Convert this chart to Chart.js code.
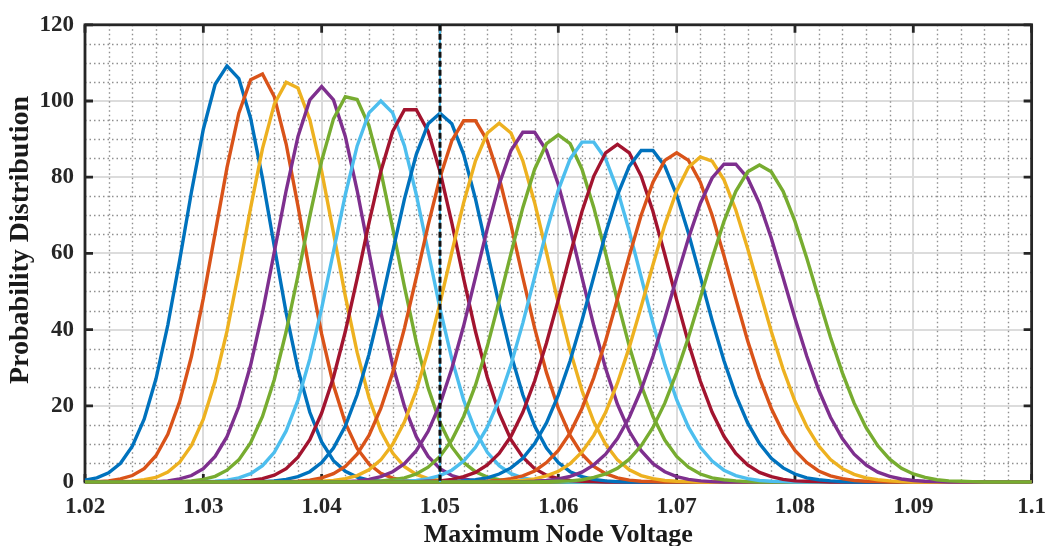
<!DOCTYPE html>
<html>
<head>
<meta charset="utf-8">
<script src="https://cdn.jsdelivr.net/npm/chart.js@4.4.1/dist/chart.umd.min.js"></script>
<style>
  html, body { margin: 0; padding: 0; background: #ffffff; }
  #wrap { width: 1057px; height: 546px; position: relative; }
</style>
</head>
<body>
<div id="wrap"><canvas id="chart"></canvas></div>
<script>
// Sample points of the voltage axis (V)
const voltageGrid = [
  1.020, 1.021, 1.022, 1.023, 1.024, 1.025, 1.026, 1.027, 1.028, 1.029,
  1.030, 1.031, 1.032, 1.033, 1.034, 1.035, 1.036, 1.037, 1.038, 1.039,
  1.040, 1.041, 1.042, 1.043, 1.044, 1.045, 1.046, 1.047, 1.048, 1.049,
  1.050, 1.051, 1.052, 1.053, 1.054, 1.055, 1.056, 1.057, 1.058, 1.059,
  1.060, 1.061, 1.062, 1.063, 1.064, 1.065, 1.066, 1.067, 1.068, 1.069,
  1.070, 1.071, 1.072, 1.073, 1.074, 1.075, 1.076, 1.077, 1.078, 1.079,
  1.080, 1.081, 1.082, 1.083, 1.084, 1.085, 1.086, 1.087, 1.088, 1.089,
  1.090, 1.091, 1.092, 1.093, 1.094, 1.095, 1.096, 1.097, 1.098, 1.099,
  1.100
];

// First voltage of the non-zero part of each distribution
const curveStart = [
  1.020, 1.021, 1.023, 1.026, 1.028, 1.030, 1.032, 1.035, 1.037, 1.039,
  1.042, 1.044, 1.046, 1.048, 1.051, 1.053, 1.055, 1.057, 1.059
];

// Probability density of the maximum node voltage, one list per case
const dist01 = [0.5, 1.1, 2.4, 4.9, 9.4, 16.5, 27.1, 41.2, 58.2, 76.2, 92.6, 104.4, 109.2, 105.9, 95.4, 79.7, 61.8, 44.4, 29.6, 18.3, 10.5, 5.6, 2.8, 1.3, 0.5, 0.2, 0.1];
const dist02 = [0.1, 0.3, 0.8, 1.7, 3.5, 6.9, 12.5, 21.1, 33.0, 48.2, 65.4, 82.5, 96.8, 105.6, 107.1, 101.1, 88.7, 72.4, 54.9, 38.8, 25.4, 15.5, 8.8, 4.7, 2.3, 1.0, 0.4, 0.2, 0.1];
const dist03 = [0.1, 0.2, 0.6, 1.2, 2.6, 5.2, 9.6, 16.5, 26.5, 39.6, 55.3, 72.0, 87.5, 99.2, 104.9, 103.4, 95.1, 81.6, 65.4, 48.8, 34.0, 22.1, 13.4, 7.6, 4.0, 2.0, 0.9, 0.4, 0.2, 0.1];
const dist04 = [0.1, 0.3, 0.8, 1.7, 3.5, 6.7, 11.9, 19.8, 30.7, 44.5, 60.4, 76.5, 90.7, 100.3, 103.8, 100.3, 90.7, 76.5, 60.4, 44.5, 30.7, 19.8, 11.9, 6.7, 3.5, 1.7, 0.8, 0.3, 0.1];
const dist05 = [0.1, 0.3, 0.7, 1.5, 3.1, 5.8, 10.3, 17.2, 26.9, 39.5, 54.2, 69.8, 84.3, 95.3, 101.1, 100.4, 93.5, 81.6, 66.7, 51.2, 36.7, 24.7, 15.6, 9.2, 5.1, 2.7, 1.3, 0.6, 0.3, 0.1];
const dist06 = [0.1, 0.2, 0.5, 1.1, 2.2, 4.3, 7.8, 13.4, 21.5, 32.3, 45.6, 60.5, 75.4, 88.2, 96.9, 100.0, 96.9, 88.2, 75.4, 60.5, 45.6, 32.3, 21.5, 13.4, 7.8, 4.3, 2.2, 1.1, 0.5, 0.2, 0.1];
const dist07 = [0.1, 0.2, 0.4, 0.9, 1.8, 3.5, 6.5, 11.1, 18.1, 27.5, 39.5, 53.4, 68.0, 81.5, 92.0, 97.7, 97.7, 92.0, 81.5, 68.0, 53.4, 39.5, 27.5, 18.1, 11.1, 6.5, 3.5, 1.8, 0.9, 0.4, 0.2, 0.1];
const dist08 = [0.1, 0.3, 0.7, 1.4, 2.7, 5.1, 8.9, 14.7, 22.9, 33.5, 46.4, 60.4, 74.3, 86.0, 94.0, 96.8, 94.0, 86.0, 74.3, 60.4, 46.4, 33.5, 22.9, 14.7, 8.9, 5.1, 2.7, 1.4, 0.7, 0.3, 0.1];
const dist09 = [0.1, 0.2, 0.5, 1.1, 2.2, 4.1, 7.3, 12.2, 19.3, 28.7, 40.4, 53.7, 67.4, 79.9, 89.6, 94.8, 94.8, 89.6, 79.9, 67.4, 53.7, 40.4, 28.7, 19.3, 12.2, 7.3, 4.1, 2.2, 1.1, 0.5, 0.2, 0.1];
const dist10 = [0.1, 0.2, 0.4, 0.9, 1.7, 3.2, 5.8, 9.9, 15.8, 24.0, 34.5, 46.9, 60.3, 73.3, 84.3, 91.6, 94.2, 91.6, 84.3, 73.3, 60.3, 46.9, 34.5, 24.0, 15.8, 9.9, 5.8, 3.2, 1.7, 0.9, 0.4, 0.2, 0.1];
const dist11 = [0.1, 0.3, 0.7, 1.4, 2.7, 4.8, 8.2, 13.3, 20.4, 29.8, 41.0, 53.7, 66.5, 78.1, 87.0, 91.8, 91.8, 87.0, 78.1, 66.5, 53.7, 41.0, 29.8, 20.4, 13.3, 8.2, 4.8, 2.7, 1.4, 0.7, 0.3, 0.1];
const dist12 = [0.1, 0.3, 0.6, 1.1, 2.1, 3.9, 6.7, 11.0, 17.2, 25.4, 35.6, 47.5, 60.0, 72.0, 82.1, 88.8, 91.1, 88.8, 82.1, 72.0, 60.0, 47.5, 35.6, 25.4, 17.2, 11.0, 6.7, 3.9, 2.1, 1.1, 0.6, 0.3, 0.1];
const dist13 = [0.1, 0.2, 0.4, 0.9, 1.7, 3.1, 5.5, 9.1, 14.4, 21.6, 30.8, 41.7, 53.8, 65.8, 76.6, 84.8, 89.2, 89.2, 84.8, 76.6, 65.8, 53.8, 41.7, 30.8, 21.6, 14.4, 9.1, 5.5, 3.1, 1.7, 0.9, 0.4, 0.2, 0.1];
const dist14 = [0.1, 0.2, 0.3, 0.7, 1.4, 2.5, 4.5, 7.5, 12.0, 18.3, 26.5, 36.5, 47.8, 59.7, 71.0, 80.3, 86.4, 88.6, 86.4, 80.3, 71.0, 59.7, 47.8, 36.5, 26.5, 18.3, 12.0, 7.5, 4.5, 2.5, 1.4, 0.7, 0.3, 0.2, 0.1];
const dist15 = [0.1, 0.3, 0.6, 1.1, 2.1, 3.7, 6.2, 10.1, 15.5, 22.8, 31.8, 42.4, 53.9, 65.3, 75.3, 82.9, 87.0, 87.0, 82.9, 75.3, 65.3, 53.9, 42.4, 31.8, 22.8, 15.5, 10.1, 6.2, 3.7, 2.1, 1.1, 0.6, 0.3, 0.1];
const dist16 = [0.1, 0.2, 0.4, 0.9, 1.6, 2.9, 5.1, 8.3, 12.9, 19.3, 27.4, 37.1, 48.1, 59.4, 70.0, 78.7, 84.4, 86.4, 84.4, 78.7, 70.0, 59.4, 48.1, 37.1, 27.4, 19.3, 12.9, 8.3, 5.1, 2.9, 1.6, 0.9, 0.4, 0.2, 0.1];
const dist17 = [0.1, 0.2, 0.4, 0.8, 1.6, 2.8, 4.8, 7.9, 12.3, 18.3, 26.0, 35.4, 46.0, 57.0, 67.5, 76.4, 82.6, 85.3, 84.2, 79.3, 71.4, 61.3, 50.4, 39.5, 29.6, 21.2, 14.5, 9.5, 5.9, 3.5, 2.0, 1.1, 0.6, 0.3, 0.1];
const dist18 = [0.1, 0.2, 0.4, 0.8, 1.5, 2.6, 4.5, 7.3, 11.4, 17.0, 24.2, 33.0, 43.0, 53.6, 64.0, 73.1, 79.8, 83.4, 83.4, 79.8, 73.1, 64.0, 53.6, 43.0, 33.0, 24.2, 17.0, 11.4, 7.3, 4.5, 2.6, 1.5, 0.8, 0.4, 0.2, 0.1];
const dist19 = [0.1, 0.2, 0.3, 0.6, 1.2, 2.1, 3.6, 6.0, 9.5, 14.3, 20.7, 28.7, 38.0, 48.3, 58.7, 68.4, 76.3, 81.4, 83.2, 81.4, 76.3, 68.4, 58.7, 48.3, 38.0, 28.7, 20.7, 14.3, 9.5, 6.0, 3.6, 2.1, 1.2, 0.6, 0.3, 0.2, 0.1];

const distributions = [dist01, dist02, dist03, dist04, dist05, dist06, dist07, dist08, dist09, dist10,
                       dist11, dist12, dist13, dist14, dist15, dist16, dist17, dist18, dist19];

// Axis ticks
const xTicks = [1.02, 1.03, 1.04, 1.05, 1.06, 1.07, 1.08, 1.09, 1.10];
const xTickLabels = ['1.02', '1.03', '1.04', '1.05', '1.06', '1.07', '1.08', '1.09', '1.1'];
const yTicks = [0, 20, 40, 60, 80, 100, 120];

// Axis titles
const xTitle = 'Maximum Node Voltage';
const yTitle = 'Probability Distribution';

// Voltage limit marker
const voltageLimit = 1.05;

// Line colour cycle
const palette = ['#0072BD', '#D95319', '#EDB120', '#7E2F8E', '#77AC30', '#4DBEEE', '#A2142F'];

const datasets = distributions.map((vals, k) => {
  const offset = voltageGrid.findIndex(v => Math.abs(v - curveStart[k]) < 1e-9);
  const pts = voltageGrid.map((v, i) => {
    const j = i - offset;
    return { x: v, y: (j >= 0 && j < vals.length) ? vals[j] : 0 };
  });
  return {
    label: 'Case ' + (k + 1),
    data: pts,
    borderColor: palette[k % palette.length],
    borderWidth: 3.4,
    pointRadius: 0,
    tension: 0,
    fill: false,
    clip: false,
    order: distributions.length - k
  };
});

const axisColor = '#262626';
const fontFamily = '"Liberation Serif", "Times New Roman", serif';

const framePlugin = {
  id: 'frame',
  beforeDatasetsDraw(chart) {
    const { ctx, chartArea: a, scales: { x, y } } = chart;
    ctx.save();
    // minor dotted grid
    ctx.strokeStyle = '#8f8f8f';
    ctx.lineWidth = 1.4;
    ctx.setLineDash([1.5, 3]);
    for (let i = 1; i < 40; i++) {
      if (i % 5 === 0) continue;
      const px = Math.round(x.getPixelForValue(1.02 + i * 0.002)) + 0.5;
      ctx.beginPath(); ctx.moveTo(px, a.top); ctx.lineTo(px, a.bottom); ctx.stroke();
    }
    for (let i = 1; i < 24; i++) {
      if (i % 4 === 0) continue;
      const py = Math.round(y.getPixelForValue(i * 5)) + 0.5;
      ctx.beginPath(); ctx.moveTo(a.left, py); ctx.lineTo(a.right, py); ctx.stroke();
    }
    ctx.setLineDash([]);
    // box
    ctx.strokeStyle = axisColor;
    ctx.lineWidth = 2.8;
    ctx.strokeRect(a.left, a.top, a.right - a.left, a.bottom - a.top);
    // inward ticks
    const tl = 8;
    xTicks.forEach(v => {
      const px = x.getPixelForValue(v);
      ctx.beginPath();
      ctx.moveTo(px, a.bottom); ctx.lineTo(px, a.bottom - tl);
      ctx.moveTo(px, a.top); ctx.lineTo(px, a.top + tl);
      ctx.stroke();
    });
    yTicks.forEach(v => {
      const py = y.getPixelForValue(v);
      ctx.beginPath();
      ctx.moveTo(a.left, py); ctx.lineTo(a.left + tl, py);
      ctx.moveTo(a.right, py); ctx.lineTo(a.right - tl, py);
      ctx.stroke();
    });
    ctx.restore();
  },
  afterDatasetsDraw(chart) {
    const { ctx, chartArea: a, scales: { x } } = chart;
    const px = x.getPixelForValue(voltageLimit);
    ctx.save();
    ctx.strokeStyle = '#4DBEEE';
    ctx.lineWidth = 2;
    ctx.beginPath(); ctx.moveTo(px, a.top); ctx.lineTo(px, a.bottom); ctx.stroke();
    ctx.strokeStyle = '#111111';
    ctx.lineWidth = 3;
    ctx.setLineDash([6, 3]);
    ctx.beginPath(); ctx.moveTo(px, a.top); ctx.lineTo(px, a.bottom); ctx.stroke();
    ctx.restore();
  },
  afterDraw(chart) {
    const { ctx, chartArea: a } = chart;
    ctx.save();
    ctx.fillStyle = '#1a1a1a';
    ctx.textAlign = 'center';
    ctx.textBaseline = 'alphabetic';
    ctx.font = 'bold 26px ' + fontFamily;
    ctx.fillText(xTitle, (a.left + a.right) / 2, 542);
    ctx.translate(28, 240);
    ctx.rotate(-Math.PI / 2);
    ctx.font = 'bold 28px ' + fontFamily;
    ctx.fillText(yTitle, 0, 0);
    ctx.restore();
  }
};

new Chart(document.getElementById('chart'), {
  type: 'line',
  data: { datasets },
  options: {
    responsive: true,
    maintainAspectRatio: false,
    animation: false,
    layout: { padding: { top: 22, right: 15, bottom: 0, left: 0 } },
    plugins: { legend: { display: false }, tooltip: { enabled: false } },
    scales: {
      x: {
        type: 'linear',
        min: 1.02,
        max: 1.1,
        afterBuildTicks: s => { s.ticks = xTicks.map(v => ({ value: v })); },
        afterFit: s => { s.height = 64; },
        ticks: {
          autoSkip: false,
          maxRotation: 0,
          padding: 11,
          color: axisColor,
          font: { family: fontFamily, size: 23, weight: 'bold' },
          callback: (v, i) => xTickLabels[i]
        },
        grid: { color: '#dcdcdc', lineWidth: 2, drawTicks: false },
        border: { display: false }
      },
      y: {
        min: 0,
        max: 120,
        afterBuildTicks: s => { s.ticks = yTicks.map(v => ({ value: v })); },
        afterFit: s => { s.width = 85; },
        ticks: {
          padding: 11,
          color: axisColor,
          font: { family: fontFamily, size: 23, weight: 'bold' }
        },
        grid: { color: '#dcdcdc', lineWidth: 2, drawTicks: false },
        border: { display: false }
      }
    }
  },
  plugins: [framePlugin]
});
</script>
</body>
</html>
